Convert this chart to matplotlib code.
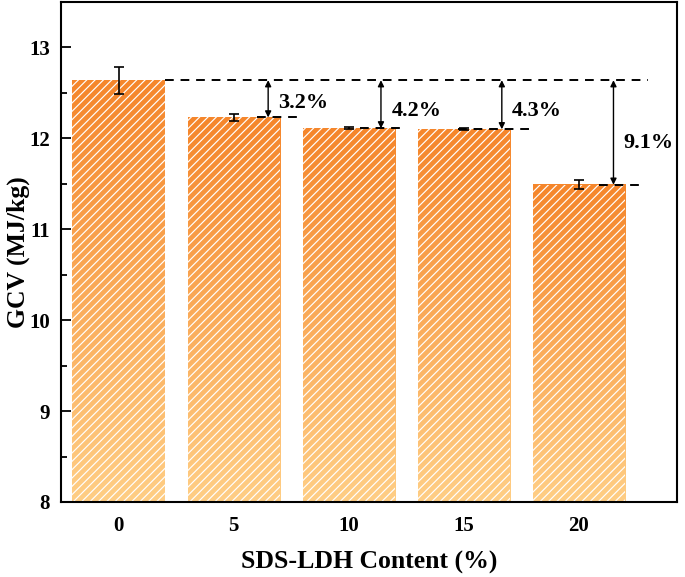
import numpy as np
import matplotlib
matplotlib.use("Agg")
import matplotlib.pyplot as plt
from matplotlib.colors import LinearSegmentedColormap

plt.rcParams["font.family"] = ["Liberation Serif", "DejaVu Serif"]
plt.rcParams["font.weight"] = "bold"
plt.rcParams["hatch.linewidth"] = 0.85

# data
content = ["0", "5", "10", "15", "20"]
gcv = [12.64, 12.23, 12.11, 12.10, 11.49]
gcv_err = [0.15, 0.04, 0.01, 0.01, 0.05]
drop_labels = ["3.2%", "4.2%", "4.3%", "9.1%"]

BAR_W = 0.8
Y0 = 8.0
cmap = LinearSegmentedColormap.from_list("og", ["#FFCE85", "#F5862B"])

fig = plt.figure(figsize=(6.85, 5.77), dpi=100)
ax = fig.add_axes([0.089, 0.13, 0.899, 0.8665])

x = np.arange(len(content))
grad = np.linspace(0, 1, 256).reshape(-1, 1)
for xi, h in zip(x, gcv):
    ax.imshow(grad, cmap=cmap, origin="lower", aspect="auto",
              extent=(xi - BAR_W / 2, xi + BAR_W / 2, Y0, h), zorder=1)
ax.bar(x, np.array(gcv) - Y0, bottom=Y0, width=BAR_W, fill=False,
       hatch="////", edgecolor="white", linewidth=0, zorder=2)
ax.errorbar(x, gcv, yerr=gcv_err, fmt="none", ecolor="black",
            elinewidth=1.2, capsize=3.5, capthick=1.2, zorder=4)

# reference line from the 0 % bar and the drop arrows
ls = (0, (4.5, 3.5))
ax.plot([x[0] + BAR_W / 2, 4.6], [gcv[0], gcv[0]], color="black",
        lw=1.4, ls=ls, zorder=3)
arrow_dx = [0.3, 0.28, 0.33, 0.3]
dash_span = [(0.2, 0.57), (0.1, 0.5), (-0.05, 0.58), (0.17, 0.56)]
label_y = [12.39, 12.30, 12.30, 11.95]
for i, lab in enumerate(drop_labels):
    xi = x[i + 1]
    h = gcv[i + 1]
    ax.plot([xi + dash_span[i][0], xi + dash_span[i][1]], [h, h],
            color="black", lw=1.4, ls=ls, zorder=3)
    ax.annotate("", xy=(xi + arrow_dx[i], h), xytext=(xi + arrow_dx[i], gcv[0]),
                arrowprops=dict(arrowstyle="<|-|>", color="black", lw=1.0,
                                mutation_scale=9, shrinkA=0, shrinkB=0),
                zorder=5)
    ax.text(xi + arrow_dx[i] + 0.09, label_y[i], lab, fontsize=16,
            fontweight="bold", ha="left", va="center")

ax.set_xlim(-0.5, 4.85)
ax.set_ylim(8, 13.5)
ax.set_xticks(x)
ax.set_xticklabels(content)
ax.set_yticks([8, 9, 10, 11, 12, 13])
ax.set_yticks(np.arange(8.5, 13.5, 1.0), minor=True)
ax.tick_params(axis="y", which="major", direction="in", length=7, width=1.3,
               labelsize=15, pad=8)
ax.tick_params(axis="y", which="minor", direction="in", length=4, width=1.3)
ax.tick_params(axis="x", length=0, labelsize=15, pad=10)
for s in ax.spines.values():
    s.set_linewidth(1.5)

ax.set_xlabel("SDS-LDH Content (%)", fontsize=18.5, fontweight="bold", labelpad=11)
ax.set_ylabel("GCV (MJ/kg)", fontsize=18.5, fontweight="bold")
ax.yaxis.set_label_coords(-0.05, 0.5)

fig.savefig("out.png", dpi=100)
